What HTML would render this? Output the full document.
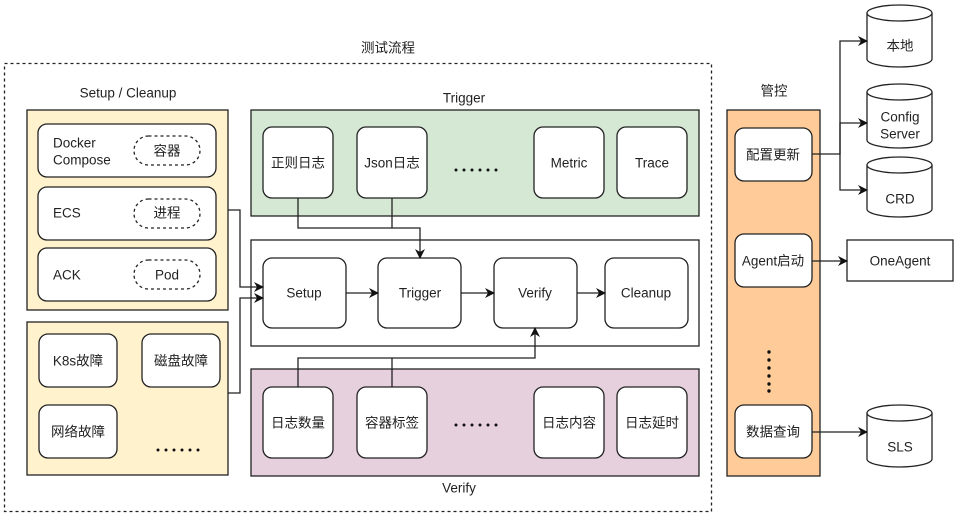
<!DOCTYPE html>
<html><head><meta charset="utf-8"><style>
body{margin:0;background:#fff}
svg text{font-family:"Liberation Sans","Noto Sans CJK SC",sans-serif;font-size:13.5px;fill:#222;text-anchor:middle;dominant-baseline:central}
</style></head><body>
<svg width="960" height="516" viewBox="0 0 960 516" xmlns="http://www.w3.org/2000/svg">
<defs><marker id="a" markerWidth="10" markerHeight="10" refX="9" refY="5" orient="auto" markerUnits="userSpaceOnUse"><path d="M0,0 L10,5 L0,10 L3,5 z" fill="#111"/></marker>
<g id="dots" fill="#111"><circle cx="0" cy="0" r="1.5"/><circle cx="8" cy="0" r="1.5"/><circle cx="16" cy="0" r="1.5"/><circle cx="24" cy="0" r="1.5"/><circle cx="32" cy="0" r="1.5"/><circle cx="40" cy="0" r="1.5"/></g></defs>
<g stroke="#222" stroke-width="1.3" fill="none">
<rect x="4.5" y="63.5" width="707" height="448" stroke-dasharray="3,3"/>
<rect x="27" y="110" width="201" height="200" fill="#fff2cc"/>
<rect x="27" y="322" width="201" height="153" fill="#fff2cc"/>
<rect x="251" y="110" width="448" height="106" fill="#d5e8d4"/>
<rect x="251" y="240" width="448" height="106" fill="#fff"/>
<rect x="251" y="369" width="448" height="107" fill="#e6d0de"/>
<rect x="727" y="110" width="93" height="366" fill="#ffcc99"/>
<g fill="#fff">
<rect x="38" y="124" width="178" height="53" rx="9"/>
<rect x="38" y="187" width="178" height="53" rx="9"/>
<rect x="38" y="248" width="178" height="53" rx="9"/>
<rect x="39" y="334" width="78" height="53" rx="9"/>
<rect x="142" y="334" width="78" height="53" rx="9"/>
<rect x="39" y="405" width="78" height="53" rx="9"/>
<rect x="263" y="127" width="70" height="71" rx="9"/>
<rect x="357" y="127" width="70" height="71" rx="9"/>
<rect x="534" y="127" width="70" height="71" rx="9"/>
<rect x="617" y="127" width="70" height="71" rx="9"/>
<rect x="263" y="258" width="83" height="70" rx="9"/>
<rect x="378" y="258" width="83" height="70" rx="9"/>
<rect x="494" y="258" width="83" height="70" rx="9"/>
<rect x="605" y="258" width="83" height="70" rx="9"/>
<rect x="263" y="387" width="70" height="71" rx="9"/>
<rect x="357" y="387" width="70" height="71" rx="9"/>
<rect x="534" y="387" width="70" height="71" rx="9"/>
<rect x="617" y="387" width="70" height="71" rx="9"/>
<rect x="735" y="128" width="77" height="53" rx="9"/>
<rect x="735" y="234" width="77" height="53" rx="9"/>
<rect x="735" y="405" width="77" height="53" rx="9"/>
<rect x="847" y="240" width="106" height="41"/>
</g>
<g stroke-dasharray="3,3"><rect x="134" y="136" width="66" height="29" rx="14.5"/><rect x="134" y="199" width="66" height="29" rx="14.5"/><rect x="134" y="260" width="66" height="29" rx="14.5"/></g>
<g fill="#fff">
<path d="M867,13 v46 a32.5,8 0 0 0 65,0 v-46"/><ellipse cx="899.5" cy="13" rx="32.5" ry="8"/>
<path d="M867,92 v48 a32.5,8 0 0 0 65,0 v-48"/><ellipse cx="899.5" cy="92" rx="32.5" ry="8"/>
<path d="M867,165 v44 a32.5,8 0 0 0 65,0 v-44"/><ellipse cx="899.5" cy="165" rx="32.5" ry="8"/>
<path d="M867,413 v46 a32.5,8 0 0 0 65,0 v-46"/><ellipse cx="899.5" cy="413" rx="32.5" ry="8"/>
</g>
<path d="M392,198 V228"/>
<path d="M392,387 V358"/>
<g marker-end="url(#a)">
<path d="M228,210 H240 V287 H263"/>
<path d="M228,393 H240 V298 H263"/>
<path d="M298,198 V228 H420 V258"/>
<path d="M298,387 V358 H535 V328"/>
<path d="M346,293 H378"/><path d="M461,293 H494"/><path d="M577,293 H605"/>
<path d="M812,154 H840 V41 H867"/>
<path d="M840,154 V123 H867"/><path d="M840,154 V190 H867"/>
<path d="M812,261 H847"/>
<path d="M812,432 H867"/>
</g>
</g>
<g fill="#111"><circle cx="769" cy="352" r="1.7"/><circle cx="769" cy="360" r="1.7"/><circle cx="769" cy="368" r="1.7"/><circle cx="769" cy="376" r="1.7"/><circle cx="769" cy="384" r="1.7"/><circle cx="769" cy="391" r="1.7"/></g>
<use href="#dots" x="158" y="450"/>
<use href="#dots" x="456" y="170"/>
<use href="#dots" x="456" y="425"/>
<text x="388" y="48">测试流程</text>
<text x="128" y="93">Setup / Cleanup</text>
<text x="464" y="98">Trigger</text>
<text x="459" y="488">Verify</text>
<text x="774" y="91">管控</text>
<text x="53" y="143" style="text-anchor:start">Docker</text>
<text x="53" y="160" style="text-anchor:start">Compose</text>
<text x="167" y="151">容器</text>
<text x="53" y="213" style="text-anchor:start">ECS</text>
<text x="167" y="213">进程</text>
<text x="53" y="275" style="text-anchor:start">ACK</text>
<text x="167" y="275">Pod</text>
<text x="78" y="361">K8s故障</text>
<text x="181" y="361">磁盘故障</text>
<text x="78" y="432">网络故障</text>
<text x="298" y="163">正则日志</text>
<text x="392" y="163">Json日志</text>
<text x="569" y="163">Metric</text>
<text x="652" y="163">Trace</text>
<text x="304" y="293">Setup</text>
<text x="420" y="293">Trigger</text>
<text x="535" y="293">Verify</text>
<text x="646" y="293">Cleanup</text>
<text x="298" y="423">日志数量</text>
<text x="392" y="423">容器标签</text>
<text x="569" y="423">日志内容</text>
<text x="652" y="423">日志延时</text>
<text x="773" y="155">配置更新</text>
<text x="773" y="261">Agent启动</text>
<text x="773" y="432">数据查询</text>
<text x="900" y="46">本地</text>
<text x="900" y="117">Config</text>
<text x="900" y="134">Server</text>
<text x="900" y="199">CRD</text>
<text x="900" y="261">OneAgent</text>
<text x="900" y="447">SLS</text>
</svg>
</body></html>
